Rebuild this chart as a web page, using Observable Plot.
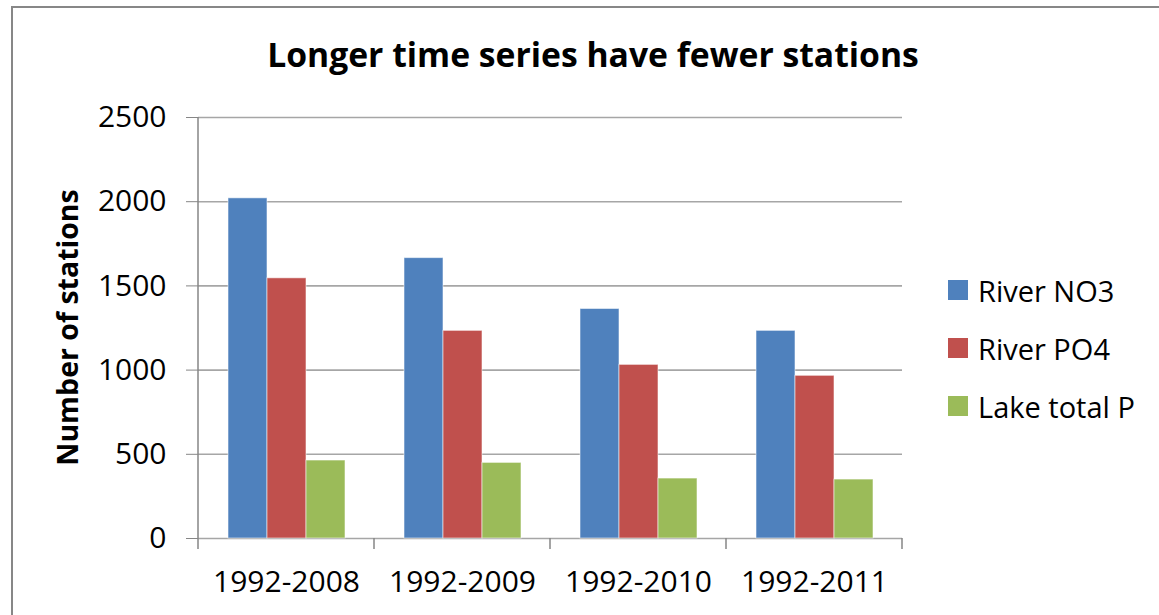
<!DOCTYPE html>
<html>
<head>
<meta charset="utf-8">
<script src="https://cdn.jsdelivr.net/npm/d3@7"></script>
<script src="https://cdn.jsdelivr.net/npm/@observablehq/plot@0.6"></script>
<style>
  html, body { margin: 0; padding: 0; background: #ffffff; }
  #wrap { position: relative; width: 1159px; height: 615px; overflow: hidden; font-family: "Open Sans", sans-serif; }
  #border { position: absolute; left: 11px; top: 6px; right: -10px; bottom: -10px; border-left: 2px solid #878787; border-top: 2px solid #878787; }
  #title { position: absolute; left: 0; width: 1186px; top: 34px; text-align: center; font-weight: 700; font-size: 33.7px; line-height: 40px; color: #000; }
  #chart { position: absolute; left: 0; top: 0; }
  #legend { position: absolute; left: 948px; top: 270px; font-size: 29px; color: #000; }
  .item { position: absolute; left: 0; height: 40px; white-space: nowrap; display: flex; align-items: center; }
  .sw { width: 20px; height: 20px; margin-right: 10px; flex: none; }
</style>
</head>
<body>
<div id="wrap">
  <div id="border"></div>
  <div id="chart"></div>
  <div id="title">Longer time series have fewer stations</div>
  <div id="legend"></div>
</div>
<script>
const categories = ["1992-2008", "1992-2009", "1992-2010", "1992-2011"];
const seriesNames = ["River NO3", "River PO4", "Lake total P"];
const riverNO3 = [2020, 1665, 1363, 1233];
const riverPO4 = [1545, 1233, 1031, 966];
const lakeTotalP = [463, 449, 356, 350];
const seriesColors = ["#4F81BD", "#C0504D", "#9BBB59"];
const yTicks = [0, 500, 1000, 1500, 2000, 2500];
const yLabel = "Number of stations";

const seriesValues = [riverNO3, riverPO4, lakeTotalP];
const data = categories.flatMap((c, i) =>
  seriesNames.map((s, j) => ({category: c, series: s, value: seriesValues[j][i]}))
);

const chart = Plot.plot({
  width: 1159,
  height: 615,
  marginLeft: 198,
  marginRight: 257,
  marginTop: 117,
  marginBottom: 77,
  style: {fontFamily: "'Open Sans', sans-serif", fontSize: "30px", color: "#000", background: "transparent", overflow: "visible"},
  fx: {domain: categories, padding: 0, label: null, tickSize: 0, tickPadding: 32, axis: "bottom"},
  x: {domain: seriesNames, paddingInner: 0, paddingOuter: 0.75, axis: null},
  y: {domain: [0, 2500], ticks: yTicks, tickSize: 12, tickPadding: 20, label: null, tickFormat: d => String(d)},
  color: {domain: seriesNames, range: seriesColors},
  marks: [
    Plot.ruleY(yTicks, {stroke: "#a6a6a6", strokeWidth: 1.6}),
    Plot.barY(data, {fx: "category", x: "series", y: "value", fill: "series", stroke: "#ffffff", strokeOpacity: 0.55, strokeWidth: 1})
  ]
});
document.getElementById("chart").appendChild(chart);

// colour the y tick marks grey
const svg = d3.select(chart.tagName.toLowerCase() === "svg" ? chart : chart.querySelector("svg"));
svg.selectAll('[aria-label="y-axis tick"] path, [aria-label="y-axis tick"] line, [aria-label="y-axis"] line').attr("stroke", "#868686");

// axis line and category boundary ticks, from the plot's own scales
const fx = chart.scale("fx");
const y = chart.scale("y");
const x0 = fx.apply(categories[0]);
const bw = fx.bandwidth;
const yb = y.apply(0), yt = y.apply(2500);
const deco = svg.append("g").attr("stroke", "#868686").attr("stroke-width", 1.5);
deco.append("line").attr("x1", x0).attr("x2", x0).attr("y1", yt).attr("y2", yb + 11);
categories.forEach((c, i) => {
  const xx = fx.apply(c) + bw;
  deco.append("line").attr("x1", xx).attr("x2", xx).attr("y1", yb).attr("y2", yb + 11);
});
svg.append("text")
  .attr("transform", `translate(68,${(yb + yt) / 2}) rotate(-90)`)
  .attr("text-anchor", "middle")
  .attr("dy", "0.35em")
  .attr("font-weight", 700)
  .attr("font-size", 28.5)
  .attr("fill", "#000")
  .text(yLabel);

// legend
const legend = d3.select("#legend");
seriesNames.forEach((s, i) => {
  const it = legend.append("div").attr("class", "item").style("top", `${i * 58}px`);
  it.append("div").attr("class", "sw").style("background", seriesColors[i]);
  it.append("span").text(s);
});
</script>
</body>
</html>
